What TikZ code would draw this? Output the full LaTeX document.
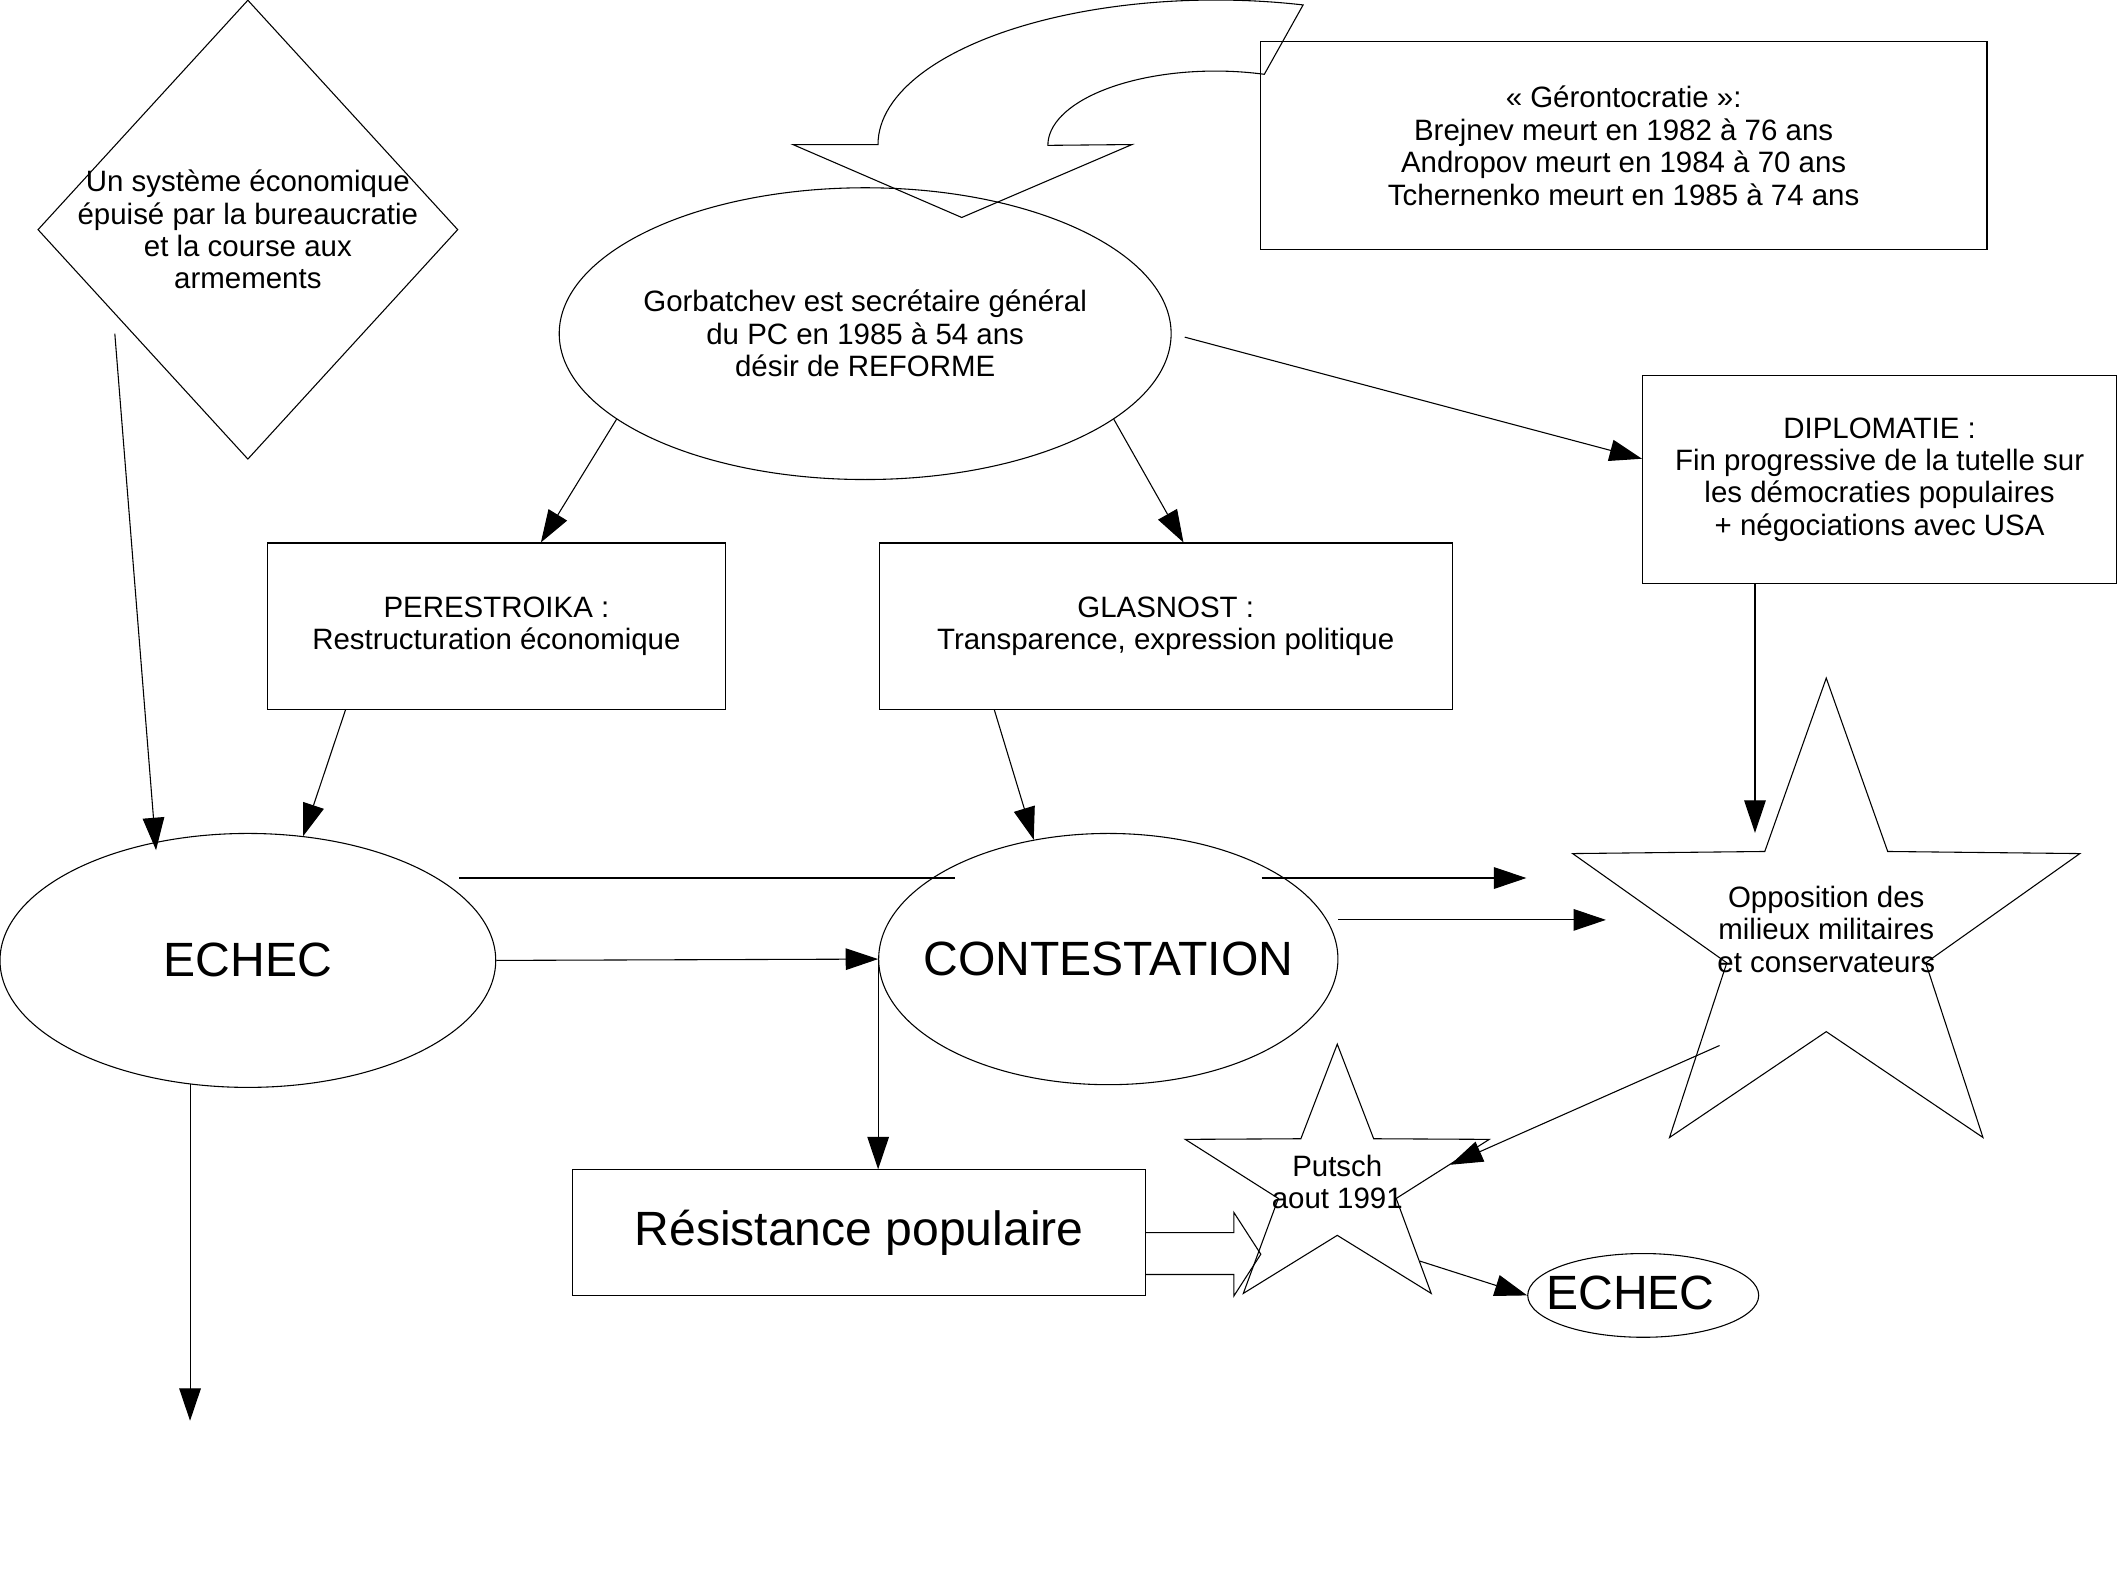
\documentclass[tikz,border=0pt]{standalone}
\usepackage{fontspec}
\setmainfont{Liberation Sans}
\usetikzlibrary{shapes.geometric,arrows.meta}

\begin{document}
\begin{tikzpicture}[x=0.5pt,y=-0.5pt,line width=0.4pt,
	every node/.style={inner sep=0pt,align=center,font=\fontsize{10.9}{12}\selectfont},
	box/.style={draw,rectangle},
	oval/.style={draw,ellipse},
	bigtxt/.style={font=\fontsize{17.8}{21}\selectfont},
	arr/.style={-{Triangle[length=12pt,width=8pt]}}]
	\useasboundingbox (0,0) rectangle (1568,1175);
	\node[draw,diamond,minimum width=155.5pt,minimum height=170pt] (econ) at (183.5,170) {};
	\node (econtxt) at (econ) {Un système économique\\épuisé par la bureaucratie\\et la course aux\\armements};
	\node[box,minimum width=269pt,minimum height=77pt] (geronto) at (1202,108) {« Gérontocratie »:\\Brejnev meurt en 1982 à 76 ans\\Andropov meurt en 1984 à 70 ans\\Tchernenko meurt en 1985 à 74 ans};
	\node[oval,minimum width=226.5pt,minimum height=108pt] (gorba) at (640.5,247) {};
	\node (gorbatxt) at (gorba) {Gorbatchev est secrétaire général\\du PC en 1985 à 54 ans\\désir de REFORME};
	\node[box,minimum width=169.5pt,minimum height=61.5pt] (perest) at (367.5,463.5) {PERESTROIKA :\\Restructuration économique};
	\node[box,minimum width=212pt,minimum height=61.5pt] (glasn) at (863,463.5) {GLASNOST :\\Transparence, expression politique};
	\node[box,minimum width=175.5pt,minimum height=77pt] (diplo) at (1391.5,355) {DIPLOMATIE :\\Fin progressive de la tutelle sur\\les démocraties populaires\\+ négociations avec USA};
	\node[oval,minimum width=183.5pt,minimum height=94pt] (echecA) at (183.5,711) {};
	\node[bigtxt] (echecAtxt) at (echecA) {ECHEC};
	\node[oval,minimum width=170pt,minimum height=93pt] (contest) at (820.5,710) {};
	\node[bigtxt] (contesttxt) at (contest) {CONTESTATION};
	\node[draw,star,star points=5,star point ratio=2.55,minimum size=188pt,xscale=1.05] (oppos) at (1352,690) {};
	\node (oppostxt) at (1352,688) {Opposition des\\milieux militaires\\et conservateurs};
	\node[draw,star,star points=5,star point ratio=2.58,minimum size=102pt,xscale=1.16] (putsch) at (990,875) {};
	\node (putschtxt) at (putsch) {Putsch\\aout 1991};
	\node[box,bigtxt,minimum width=212pt,minimum height=46.5pt] (resist) at (636,912.5) {Résistance populaire};
	\node[oval,minimum width=85.5pt,minimum height=31pt] (echecB) at (1216.5,959) {};
	\node[bigtxt] (echecBtxt) at (1207,957) {ECHEC};
	\coordinate (cutA) at (340,650);
	\coordinate (cutB) at (707,650);
	\coordinate (cutC) at (934,650);
	\coordinate (cutD) at (1130,650);
	\coordinate (econstart) at ([shift={(-98.5,77)}]econ.center);
	\coordinate (opstart) at ([shift={(-79,84)}]oppos.center);
	% grosse fleche courbe
	\draw (587,107) -- (650,107) arc[start angle=180,end angle=75,x radius=125pt,y radius=53.5pt] -- (936,55) arc[start angle=73,end angle=180,x radius=62pt,y radius=27.5pt] -- (838,107) -- (712,161) -- cycle;
	\draw (resist.east) -- ++(65,0) -- ++(0,-15) -- ++(20,31) -- ++(-20,31) -- ++(0,-16) -- ++(-65,0);
	\draw[arr,shorten >=-3pt] (econstart) -- (echecA.128);
	\draw[arr] (gorba.199) -- (perest.62);
	\draw[arr] (gorba.341) -- (glasn.78);
	\draw[arr,shorten <=5pt] (gorba.east) -- (diplo.175);
	\draw[arr] (perest.209) -- (echecA.66);
	\draw[arr] (glasn.206) -- (contest.122);
	\draw[arr,shorten >=7.5pt] (diplo.220) -- (diplo.220 |- oppos.outer point 2);
	\draw[arr] (echecA.east) -- (contest.west);
	\draw (cutA) -- (cutB);
	\draw[arr] (cutC) -- (cutD);
	\draw[arr] ([yshift=14.5pt]contest.east) -- ++(198,0);
	\draw[arr] (contest.west) -- (contest.west |- resist.north);
	\draw[arr] (echecA.245) -- ++(0,249);
	\draw[arr] (opstart) -- (putsch.10);
	\draw[arr] (putsch.-48) -- (echecB.west);
\end{tikzpicture}
\end{document}
